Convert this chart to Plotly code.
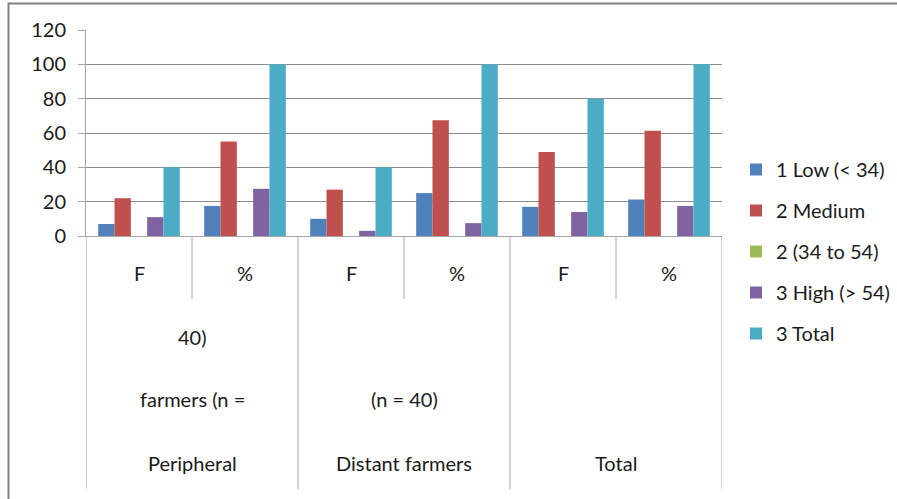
import plotly.graph_objects as go

# Age category of respondents: frequency (F) and percentage (%) per farmer group
sub_labels = ["F", "%", "F", "%", "F", "%"]
group_labels = ["Peripheral", "Distant farmers", "Total"]
group_line2 = ["farmers (n =", "(n = 40)", ""]
group_line1 = ["40)", "", ""]

series_names = ["1 Low (< 34)", "2 Medium", "2 (34 to 54)", "3 High (> 54)", "3 Total"]
low = [7, 17.5, 10, 25, 17, 21.25]
medium = [22, 55, 27, 67.5, 49, 61.25]
mid_range = [0, 0, 0, 0, 0, 0]
high = [11, 27.5, 3, 7.5, 14, 17.5]
total = [40, 100, 40, 100, 80, 100]
colors = ["#4F81BD", "#C0504D", "#9BBB59", "#8064A2", "#4BACC6"]

y_ticks = [0, 20, 40, 60, 80, 100, 120]

FONT = "Lato"
FS = 20
TXT = "#1a1a1a"
GRID = "#8c8c8c"
AXIS = "#a6a6a6"

x_pos = list(range(len(sub_labels)))

fig = go.Figure()
for i, (name, vals) in enumerate(zip(series_names, [low, medium, mid_range, high, total])):
    fig.add_trace(go.Bar(
        x=x_pos, y=vals, name=name,
        marker=dict(color=colors[i], line=dict(width=0)),
        legendgroup=str(i),
    ))

# plot-area height in px, used to place the category rows below the axis
plot_h = 206.0

def py(px_below):
    return -px_below / plot_h

label_font = dict(family=FONT, size=FS, color=TXT)
annotations = []
for i, lab in enumerate(sub_labels):
    annotations.append(dict(x=i, y=py(37), xref="x", yref="paper", text=lab,
                            showarrow=False, font=label_font,
                            xanchor="center", yanchor="middle"))
for g, (l1, l2, l3) in enumerate(zip(group_line1, group_line2, group_labels)):
    cx = 2 * g + 0.5
    for txt, off in [(l1, 101), (l2, 163), (l3, 227)]:
        if txt:
            annotations.append(dict(x=cx, y=py(off), xref="x", yref="paper", text=txt,
                                    showarrow=False, font=label_font,
                                    xanchor="center", yanchor="middle"))

shapes = []
# dividers between F and % within each group
for g in range(3):
    shapes.append(dict(type="line", xref="x", yref="paper", x0=2 * g + 0.5, x1=2 * g + 0.5,
                       y0=0, y1=py(63), line=dict(color=AXIS, width=1)))
# dividers between groups (full depth)
for b in [-0.5, 1.5, 3.5, 5.5]:
    shapes.append(dict(type="line", xref="x", yref="paper", x0=b, x1=b,
                       y0=0, y1=py(253), line=dict(color=AXIS, width=1)))
# chart border
shapes.append(dict(type="rect", xref="paper", yref="paper",
                   x0=(8.5 - 86) / 636, x1=(905 - 86) / 636,
                   y0=(236 - 510) / plot_h, y1=(236 - 3.5) / plot_h,
                   line=dict(color="#7f7f7f", width=2), layer="below"))

fig.update_layout(
    width=897, height=499,
    margin=dict(l=86, r=175, t=30, b=263),
    paper_bgcolor="white", plot_bgcolor="white",
    barmode="group", bargap=0.23, bargroupgap=0,
    font=dict(family=FONT, size=FS, color=TXT),
    showlegend=True,
    legend=dict(x=736 / 897, xanchor="left", y=1 - 150 / 499, yanchor="top",
                xref="container", yref="container",
                traceorder="grouped", tracegroupgap=12,
                font=dict(family=FONT, size=FS, color=TXT),
                itemclick=False, bgcolor="rgba(0,0,0,0)"),
    xaxis=dict(range=[-0.5, 5.5], showticklabels=False, showgrid=False, zeroline=False,
               showline=True, linecolor=AXIS, linewidth=1, ticks=""),
    yaxis=dict(range=[0, 120], tickvals=y_ticks, showgrid=True, gridcolor=GRID, gridwidth=1,
               zeroline=False, showline=True, linecolor=AXIS, linewidth=1,
               ticks="outside", ticklen=7, tickcolor=AXIS, ticklabelstandoff=8,
               tickfont=dict(family=FONT, size=FS, color=TXT)),
    annotations=annotations,
    shapes=shapes,
)

fig.write_html("out.html")
